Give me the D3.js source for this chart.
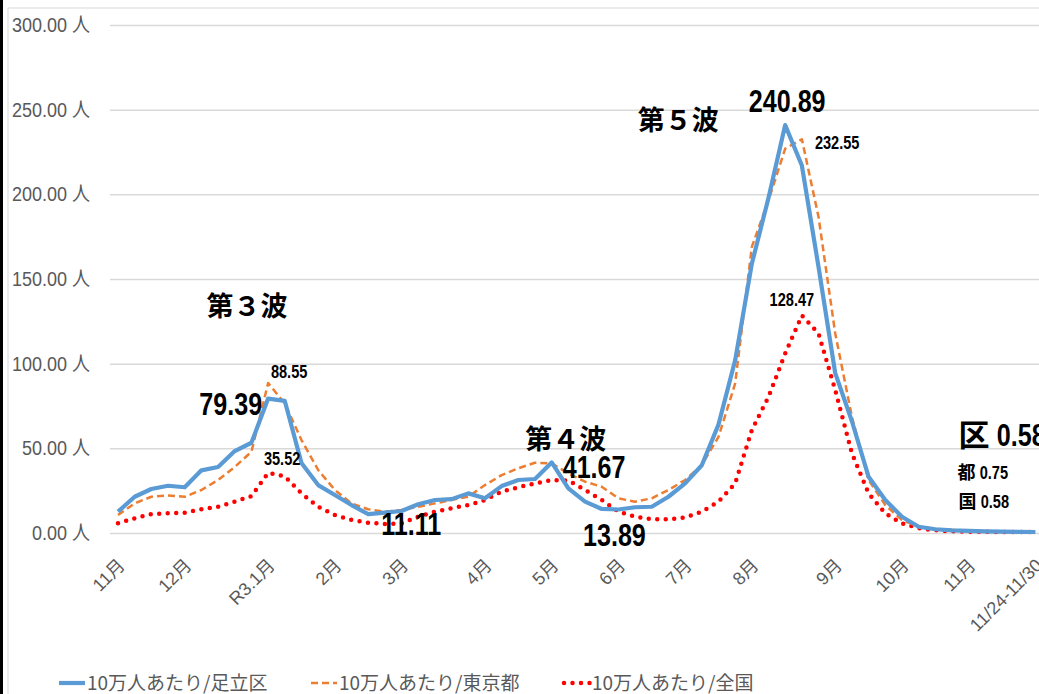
<!DOCTYPE html>
<html>
<head>
<meta charset="utf-8">
<script src="https://cdn.jsdelivr.net/npm/d3@7"></script>
<style>
  html, body { margin: 0; padding: 0; background: #fff; overflow: hidden; }
</style>
</head>
<body>
<script>
'use strict';

// weekly values per 100k people, Nov 2020 - Nov 2021
var adachi = [12.6, 21.4, 26, 27.9, 27, 37, 39, 48.4, 53.3, 79.39, 78, 41.3, 28.3, 22.4, 16.5, 11.11,
    12, 13, 17, 19.5, 20, 23.4, 20.5, 27.7, 31.3, 31.9, 41.67, 26.4, 18.5, 14.2, 13.89, 15.2,
    15.5, 21.4, 29.3, 40, 64, 102, 159, 198, 240.89, 217, 157, 94.4, 66, 33.2, 19.5, 9.6,
    3.7, 2.2, 1.5, 1.2, 1.0, 0.8, 0.7, 0.58];
var tokyo = [10.6, 17.5, 21.4, 22.2, 21.4, 25.4, 31.3, 39, 48, 88.55, 76.5, 54.9, 37.2, 25.4, 17.5, 14,
    12.6, 13.6, 15.5, 17.5, 19.5, 21.4, 28.3, 34.2, 38.2, 41.5, 41.1, 35.2, 30.3, 27.3, 20.5, 18.5,
    20.5, 25.4, 31.3, 40.1, 56.8, 88.3, 169, 196.5, 227, 232.55, 186.6, 117.8, 68.6, 31.3, 16.5, 7.7,
    3.7, 2.5, 1.8, 1.4, 1.1, 0.9, 0.8, 0.75];
var zenkoku = [5.7, 8.7, 11.2, 11.6, 12, 14, 15.5, 18.5, 21.8, 35.52, 33.5, 23.4, 15.5, 10.6, 7.7, 6.1,
    5.3, 5.7, 9.6, 12.6, 14.6, 16.5, 19.5, 24.4, 27, 29.3, 31.3, 31, 25.4, 19.5, 12.6, 9.6,
    8.1, 8.1, 9.2, 12.6, 18.5, 29.3, 60.8, 80.4, 106, 128.47, 117.8, 84.4, 47, 23.4, 11.6, 5.7,
    2.8, 1.6, 1.0, 0.8, 0.7, 0.6, 0.6, 0.58];

var tickWeeks = [0, 4, 9, 13, 17, 22, 26, 30, 34, 38, 43, 47, 51, 55];
var tickLabels = ["11月", "12月", "R3.1月", "2月", "3月", "4月", "5月", "6月", "7月", "8月", "9月", "10月", "11月", "11/24-11/30"];
var yTicks = [0, 50, 100, 150, 200, 250, 300];

var seriesNames = ["10万人あたり/足立区", "10万人あたり/東京都", "10万人あたり/全国"];

var width = 1039, height = 694;
var numFont = '"Liberation Sans", Arial, "Noto Sans CJK JP", sans-serif';
var cjkFont = '"Noto Sans CJK JP", sans-serif';
var grey = "#595959";

// squeeze a text horizontally, keeps its anchor
function narrow(sel, f) {
    sel.each(function() {
        var w = this.getComputedTextLength();
        d3.select(this)
            .attr("textLength", w * f)
            .attr("lengthAdjust", "spacingAndGlyphs");
    });
}

var svg = d3.select("body").append("svg")
    .attr("width", width)
    .attr("height", height);

var x = d3.scaleLinear().domain([0, 55]).range([118, 1035.4]);
var y = d3.scaleLinear().domain([0, 300]).range([533, 25]);

// frame
svg.append("line").attr("x1", 1.5).attr("x2", 1.5).attr("y1", 0).attr("y2", height)
    .attr("stroke", "#000").attr("stroke-width", 3);
svg.append("path").attr("d", "M8," + height + "V8H" + width)
    .attr("fill", "none").attr("stroke", "#d9d9d9").attr("stroke-width", 1);

// y grid + labels
var yAxis = d3.axisLeft(y)
    .tickValues(yTicks)
    .tickSize(-(width - 110))
    .tickFormat(function(d) { return d3.format(".2f")(d) + " 人"; });

var gy = svg.append("g")
    .attr("transform", "translate(110,0)")
    .call(yAxis);
gy.select(".domain").remove();
gy.selectAll(".tick line").attr("stroke", "#d9d9d9").attr("stroke-width", 1.5);
gy.selectAll(".tick text")
    .attr("x", -20)
    .attr("fill", grey)
    .style("font-family", numFont)
    .style("font-size", "20px")
    .call(narrow, 0.9);

// x tick labels
var xAxis = d3.axisBottom(x)
    .tickValues(tickWeeks)
    .tickSize(0)
    .tickFormat(function(d, i) { return tickLabels[i]; });

var gx = svg.append("g")
    .attr("transform", "translate(0,533)")
    .call(xAxis);
gx.select(".domain").remove();
gx.selectAll(".tick text")
    .attr("fill", grey)
    .style("font-family", numFont)
    .style("font-size", "18px")
    .attr("text-anchor", "end")
    .attr("transform", "translate(3,29) rotate(-45)")
    .attr("y", 0)
    .attr("dy", "0.35em");

// lines
var line = d3.line()
    .x(function(d, i) { return x(i); })
    .y(function(d) { return y(d); });

var styles = [
    { data: adachi, color: "#5b9bd5", width: 4.2, dash: null, cap: "butt" },
    { data: tokyo, color: "#ed7d31", width: 2.5, dash: "7,4", cap: "butt" },
    { data: zenkoku, color: "#ff0000", width: 4.5, dash: "0,8.5", cap: "round" }
];

svg.selectAll(".series")
    .data(styles.slice().reverse())
    .enter().append("path")
    .attr("class", "series")
    .attr("d", function(d) { return line(d.data); })
    .attr("fill", "none")
    .attr("stroke", function(d) { return d.color; })
    .attr("stroke-width", function(d) { return d.width; })
    .attr("stroke-dasharray", function(d) { return d.dash; })
    .attr("stroke-linecap", function(d) { return d.cap; })
    .attr("stroke-linejoin", "round");

// value labels, placed relative to their data point
var valueLabels = [
    { s: adachi, i: 9, text: "79.39", size: 31, anchor: "end", dx: -6, dy: 16 },
    { s: tokyo, i: 9, text: "88.55", size: 18, anchor: "middle", dx: 21, dy: -5 },
    { s: zenkoku, i: 9, text: "35.52", size: 18, anchor: "middle", dx: 14, dy: -8 },
    { s: adachi, i: 15, text: "11.11", size: 31, anchor: "middle", dx: 43, dy: 21 },
    { s: adachi, i: 26, text: "41.67", size: 31, anchor: "start", dx: 11, dy: 16 },
    { s: adachi, i: 30, text: "13.89", size: 31, anchor: "middle", dx: -4, dy: 37 },
    { s: adachi, i: 40, text: "240.89", size: 31, anchor: "middle", dx: 2, dy: -13 },
    { s: tokyo, i: 41, text: "232.55", size: 18, anchor: "start", dx: 13, dy: 10 },
    { s: zenkoku, i: 41, text: "128.47", size: 18, anchor: "middle", dx: -10, dy: -9 }
];

svg.selectAll(".vlabel")
    .data(valueLabels)
    .enter().append("text")
    .attr("class", "vlabel")
    .attr("x", function(d) { return x(d.i) + d.dx; })
    .attr("y", function(d) { return y(d.s[d.i]) + d.dy; })
    .attr("text-anchor", function(d) { return d.anchor; })
    .style("font-family", numFont)
    .style("font-weight", "bold")
    .style("font-size", function(d) { return d.size + "px"; })
    .text(function(d) { return d.text; })
    .call(narrow, 0.81);

// wave titles
var waves = [
    { text: "第３波", i: 9, dx: -21, yv: 128 },
    { text: "第４波", i: 26, dx: 14, yv: 49.5 },
    { text: "第５波", i: 40, dx: -107, yv: 238 }
];
svg.selectAll(".wave")
    .data(waves)
    .enter().append("text")
    .attr("class", "wave")
    .attr("x", function(d) { return x(d.i) + d.dx; })
    .attr("y", function(d) { return y(d.yv); })
    .attr("text-anchor", "middle")
    .style("font-family", cjkFont)
    .style("font-weight", "bold")
    .style("font-size", "27px")
    .text(function(d) { return d.text; });

// latest week values: kanji + number
var last = adachi.length - 1;
var latest = [
    { kanji: "区", value: adachi[last], size: 31, dx: -77, yv: 51.5 },
    { kanji: "都", value: tokyo[last], size: 18, dx: -78, yv: 32 },
    { kanji: "国", value: zenkoku[last], size: 18, dx: -77, yv: 14.8 }
];
var lg = svg.selectAll(".latest")
    .data(latest)
    .enter().append("g")
    .attr("class", "latest")
    .attr("transform", function(d) { return "translate(" + (x(last) + d.dx) + "," + y(d.yv) + ")"; });

lg.append("text")
    .style("font-family", cjkFont)
    .style("font-weight", "bold")
    .style("font-size", function(d) { return d.size + "px"; })
    .text(function(d) { return d.kanji; });

lg.append("text")
    .attr("x", function(d) { return d.size * 1.24; })
    .style("font-family", numFont)
    .style("font-weight", "bold")
    .style("font-size", function(d) { return d.size + "px"; })
    .text(function(d) { return d.value; })
    .call(narrow, 0.81);

// legend
var legendX = [59, 311, 564];
var legend = svg.selectAll(".legend")
    .data(styles)
    .enter().append("g")
    .attr("class", "legend")
    .attr("transform", function(d, i) { return "translate(" + legendX[i] + ",683)"; });

legend.append("line")
    .attr("x1", 0).attr("x2", 26)
    .attr("stroke", function(d) { return d.color; })
    .attr("stroke-width", function(d) { return d.width; })
    .attr("stroke-dasharray", function(d) { return d.dash; })
    .attr("stroke-linecap", function(d) { return d.cap; });

legend.append("text")
    .attr("x", 28)
    .attr("dy", "0.36em")
    .attr("fill", grey)
    .style("font-family", cjkFont)
    .style("font-size", "19px")
    .text(function(d, i) { return seriesNames[i]; });
</script>
</body>
</html>
